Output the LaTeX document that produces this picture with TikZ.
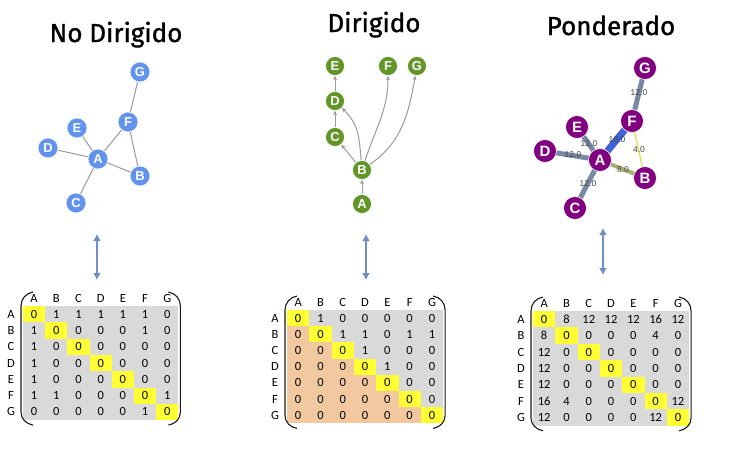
\documentclass[tikz,border=0pt]{standalone}
\usepackage{fontspec}
\setmainfont{Liberation Sans}
\newfontfamily\titlefont[FakeBold=1.2]{Fira Sans}
\newfontfamily\matfont{Carlito}
\usetikzlibrary{arrows.meta}
\definecolor{nblue}{RGB}{98,148,238}
\definecolor{ngreen}{RGB}{98,150,40}
\definecolor{npurple}{RGB}{128,0,128}
\definecolor{edgegray}{RGB}{155,155,155}
\definecolor{matgrey}{RGB}{217,217,217}
\definecolor{matyellow}{RGB}{255,255,51}
\definecolor{matorange}{RGB}{242,200,160}
\definecolor{linkblue}{RGB}{112,142,196}
\definecolor{wtwelve}{RGB}{120,136,164}
\definecolor{wsixteen}{RGB}{66,98,215}
\definecolor{weight}{RGB}{168,178,112}
\definecolor{wfour}{RGB}{222,222,70}
\definecolor{labgray}{RGB}{70,70,70}
\tikzset{
  vtx/.style={circle, fill=#1, draw=white, line width=0.6pt, text=white, inner sep=0pt},
  smallv/.style={vtx=#1, minimum size=20pt, font=\bfseries\fontsize{13}{13}\selectfont},
  midv/.style={vtx=#1, minimum size=19pt, font=\bfseries\fontsize{13}{13}\selectfont},
  bigv/.style={vtx=#1, minimum size=23pt, font=\bfseries\fontsize{15}{15}\selectfont},
  uedge/.style={draw=edgegray, line width=1pt},
  dedge/.style={draw=edgegray, line width=1pt, -{Stealth[length=4.5pt,width=4pt]}},
  wedge/.style={draw=#1},
  wlab/.style={text=labgray, font=\fontsize{8.5}{8.5}\selectfont, inner sep=0pt},
  title/.style={font=\titlefont\fontsize{26}{26}\selectfont, anchor=base, inner sep=0pt},
  link/.style={draw=linkblue, line width=2.2pt, {Latex[length=7pt,width=8pt]}-{Latex[length=7pt,width=8pt]}},
  cell/.style={font=\matfont\fontsize{12.5}{12.5}\selectfont, inner sep=0pt, anchor=center},
  bracket/.style={draw=black!90, line width=1.1pt},
}
\newcommand\adjmat[7]{% name, x0, y0, w, h, lower colour, rows
  \begin{scope}[shift={(#2,-#3)}]
    \fill[matgrey] (0,0) rectangle ({7*#4},{-7*#5});
    \foreach \row [count=\i] in {#7} {
      \foreach \v [count=\j] in \row {
        \ifnum\j<\i \fill[#6] ({(\j-1)*#4},{-(\i-1)*#5}) rectangle ++(#4,-#5);\fi
        \ifnum\j=\i \fill[matyellow] ({(\j-1)*#4},{-(\i-1)*#5}) rectangle ++(#4,-#5);\fi
        \node[cell] (#1-\i-\j) at ({(\j-0.5)*#4},{-(\i-0.5)*#5}) {\v};
      }
    }
    \foreach \l [count=\k] in {A,B,C,D,E,F,G} {
      \node[cell] (#1-c\k) at ({(\k-0.5)*#4},7.5) {\l};
      \node[cell] (#1-r\k) at (-12,{-(\k-0.5)*#5}) {\l};
    }
    \draw[bracket] (10,14) to[out=190,in=90] (-2,0) -- (-2,{-7*#5+8}) to[out=-90,in=170] (10,{-7*#5-5});
    \draw[bracket] ({7*#4-10},14) to[out=-10,in=90] ({7*#4+2},0) -- ({7*#4+2},{-7*#5+8}) to[out=-90,in=10] ({7*#4-10},{-7*#5-5});
  \end{scope}
}
\begin{document}
\begin{tikzpicture}[x=1pt,y=1pt]
\fill[white] (0,0) rectangle (750,-456);
\useasboundingbox (0,0) rectangle (750,-456);

% titles
\node[title] (t1) at (116,-42) {No Dirigido};
\node[title] (t2) at (374,-32) {Dirigido};
\node[title] (t3) at (611,-35) {Ponderado};

% undirected graph
\node[smallv=nblue] (uG) at (140,-72) {G};
\node[smallv=nblue] (uF) at (128,-122) {F};
\node[smallv=nblue] (uE) at (77,-128) {E};
\node[smallv=nblue] (uD) at (48,-148) {D};
\node[smallv=nblue] (uA) at (98,-159) {A};
\node[smallv=nblue] (uB) at (140,-176) {B};
\node[smallv=nblue] (uC) at (76,-203) {C};
\draw[uedge] (uA) -- (uD);
\draw[uedge] (uA) -- (uE);
\draw[uedge] (uA) -- (uF);
\draw[uedge] (uA) -- (uB);
\draw[uedge] (uA) -- (uC);
\draw[uedge] (uF) -- (uB);
\draw[uedge] (uF) -- (uG);

% directed graph
\node[midv=ngreen] (dE) at (335,-66) {E};
\node[midv=ngreen] (dF) at (388,-66) {F};
\node[midv=ngreen] (dG) at (417,-66) {G};
\node[midv=ngreen] (dD) at (335,-101) {D};
\node[midv=ngreen] (dC) at (335,-137) {C};
\node[midv=ngreen] (dB) at (362,-170) {B};
\node[midv=ngreen] (dA) at (362,-204) {A};
\draw[dedge] (dA) -- (dB);
\draw[dedge] (dB) -- (dC);
\draw[dedge] (dC) -- (dD);
\draw[dedge] (dD) -- (dE);
\draw[dedge] (dB) to[out=95,in=-45,looseness=1.1] (dD);
\draw[dedge] (dB) to[out=72,in=-90] (dF);
\draw[dedge] (dB) to[out=35,in=-100] (dG);

% weighted graph
\coordinate (pGc) at (645,-68);
\coordinate (pFc) at (632,-121);
\coordinate (pEc) at (577,-127);
\coordinate (pDc) at (545,-151);
\coordinate (pAc) at (600,-160);
\coordinate (pBc) at (645,-178);
\coordinate (pCc) at (575,-208);
\draw[wedge=wtwelve, line width=5pt] (pGc) -- (pFc);
\draw[wedge=wtwelve, line width=5pt] (pEc) -- (pAc);
\draw[wedge=wtwelve, line width=5pt] (pDc) -- (pAc);
\draw[wedge=wtwelve, line width=5pt] (pCc) -- (pAc);
\draw[wedge=wsixteen, line width=7pt] (pFc) -- (pAc);
\draw[wedge=weight, line width=4pt] (pAc) -- (pBc);
\draw[wedge=wfour, line width=1.2pt] (pFc) -- (pBc);
\node[bigv=npurple] (pG) at (pGc) {G};
\node[bigv=npurple] (pF) at (pFc) {F};
\node[bigv=npurple] (pE) at (pEc) {E};
\node[bigv=npurple] (pD) at (pDc) {D};
\node[bigv=npurple] (pA) at (pAc) {A};
\node[bigv=npurple] (pB) at (pBc) {B};
\node[bigv=npurple] (pC) at (pCc) {C};
\node[wlab] (lGF) at (639,-93) {12.0};
\node[wlab] (lFA) at (617,-140) {16.0};
\node[wlab] (lEA) at (589,-144) {12.0};
\node[wlab] (lDA) at (573,-155) {12.0};
\node[wlab] (lFB) at (639,-150) {4.0};
\node[wlab] (lAB) at (623,-170) {8.0};
\node[wlab] (lAC) at (588,-184) {12.0};

% links
\coordinate (k1a) at (97,-234);
\coordinate (k1b) at (97,-280);
\coordinate (k2a) at (366,-234);
\coordinate (k2b) at (366,-280);
\coordinate (k3a) at (603,-228);
\coordinate (k3b) at (603,-275);
\draw[link] (k1a) -- (k1b);
\draw[link] (k2a) -- (k2b);
\draw[link] (k3a) -- (k3b);

% matrices
\adjmat{mu}{23}{306}{22.2}{16.3}{matgrey}{{0,1,1,1,1,1,0},{1,0,0,0,0,1,0},{1,0,0,0,0,0,0},{1,0,0,0,0,0,0},{1,0,0,0,0,0,0},{1,1,0,0,0,0,1},{0,0,0,0,0,1,0}}
\adjmat{md}{287}{310}{22.3}{16.2}{matorange}{{0,1,0,0,0,0,0},{0,0,1,1,0,1,1},{0,0,0,1,0,0,0},{0,0,0,0,1,0,0},{0,0,0,0,0,0,0},{0,0,0,0,0,0,0},{0,0,0,0,0,0,0}}
\adjmat{mw}{533}{311}{22.3}{16.4}{matgrey}{{0,8,12,12,12,16,12},{8,0,0,0,0,4,0},{12,0,0,0,0,0,0},{12,0,0,0,0,0,0},{12,0,0,0,0,0,0},{16,4,0,0,0,0,12},{12,0,0,0,0,12,0}}
\end{tikzpicture}
\end{document}
